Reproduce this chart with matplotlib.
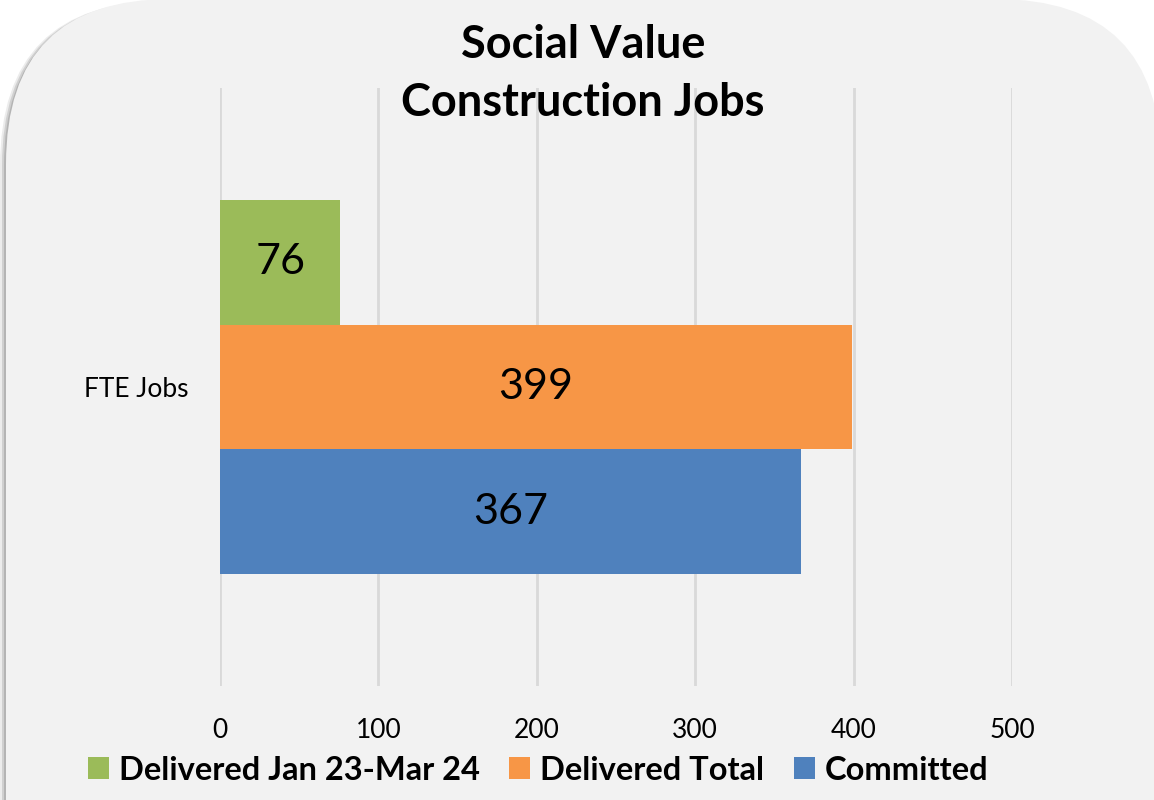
import matplotlib.pyplot as plt
from matplotlib.patches import FancyBboxPatch
from matplotlib.transforms import IdentityTransform

plt.rcParams['font.family'] = ['Lato', 'DejaVu Sans']

# данные
category = 'FTE Jobs'
series = ['Delivered Jan 23-Mar 24', 'Delivered Total', 'Committed']
values = [76, 399, 367]
colors = ['#9BBB59', '#F79646', '#4F81BD']
xticks = [0, 100, 200, 300, 400, 500]
title_lines = ['Social Value', 'Construction Jobs']

fig = plt.figure(figsize=(11.54, 8), dpi=100)
fig.patch.set_facecolor('white')

# фон - скругленный прямоугольник с тенью (в пикселях)
for dx, a in [(-6, 0.15), (-4, 0.25), (-2, 0.35)]:
    sh = FancyBboxPatch((6 + dx, -300 - 2), 1155, 1101,
                        boxstyle='round,pad=0,rounding_size=165',
                        transform=IdentityTransform(), facecolor='#808080',
                        edgecolor='none', alpha=a, zorder=-12)
    fig.add_artist(sh)
bg = FancyBboxPatch((6, -300), 1155, 1101,
                    boxstyle='round,pad=0,rounding_size=165',
                    transform=IdentityTransform(), facecolor='#F2F2F2',
                    edgecolor='none', zorder=-10)
fig.add_artist(bg)

ax = fig.add_axes([220 / 1154, 1 - 686 / 800, (1012 - 220) / 1154, (686 - 88) / 800])
ax.set_facecolor('none')

h = 0.209
offsets = [h, 0, -h]
for name, v, c, off in zip(series, values, colors, offsets):
    bars = ax.barh(0 + off, v, height=h, color=c, label=name, zorder=3)
    ax.bar_label(bars, label_type='center', fontsize=31, color='black')

ax.set_xlim(0, 500)
ax.set_ylim(-0.5, 0.5)
ax.set_xticks(xticks)
ax.set_yticks([0])
ax.set_yticklabels([category])
ax.tick_params(axis='x', length=0, pad=23, labelsize=19)
ax.tick_params(axis='y', length=0, pad=23, labelsize=19)
ax.grid(axis='x', color='#D9D9D9', linewidth=2, zorder=0)
for s in ax.spines.values():
    s.set_visible(False)

# заголовок в две строки
for line, y in zip(title_lines, [45, 103]):
    fig.text(583 / 1154, 1 - y / 800, line, ha='center', va='center',
             fontsize=32.5, fontweight='bold')

fig.legend(loc='center', bbox_to_anchor=(538 / 1154, 1 - 770 / 800), ncol=3,
           frameon=False, prop={'weight': 'bold', 'size': 23.5},
           handlelength=0.65, handleheight=0.65, handletextpad=0.3, columnspacing=0.9)

fig.savefig('out.png', dpi=100)
